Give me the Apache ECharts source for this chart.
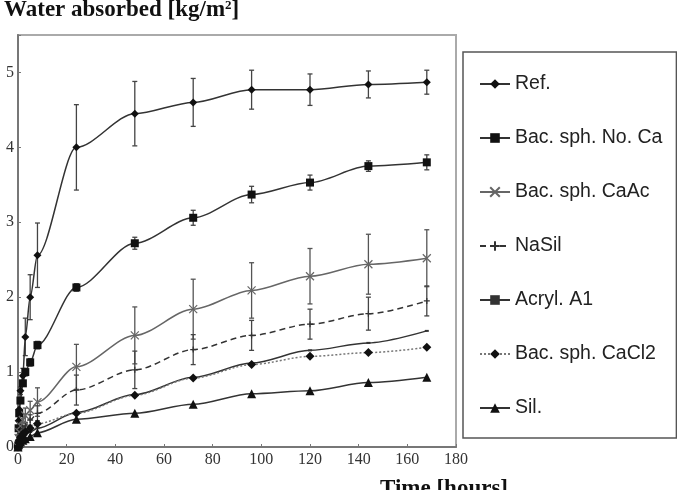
<!DOCTYPE html>
<html>
<head>
<meta charset="utf-8">
<script src="https://cdn.jsdelivr.net/npm/echarts@6/dist/echarts.min.js"></script>
<style>
html,body{margin:0;padding:0;background:#fff;}
#chart{width:677px;height:490px;}
</style>
</head>
<body>
<div id="chart"></div>
<script>
// time in hours
var times = [0, 0.25, 0.5, 1, 2, 3, 5, 8, 24, 48, 72, 96, 120, 144, 168];

var ref     = [0, 0.35, 0.5, 0.75, 0.95, 1.47, 2.0, 2.56, 4.0, 4.45, 4.6, 4.77, 4.77, 4.84, 4.87];
var refErr  = [0, 0, 0, 0.05, 0.1, 0.25, 0.3, 0.43, 0.57, 0.43, 0.32, 0.26, 0.21, 0.18, 0.16];
var noCa    = [0, 0.25, 0.45, 0.62, 0.85, 1.0, 1.13, 1.36, 2.13, 2.72, 3.06, 3.37, 3.53, 3.75, 3.8];
var noCaErr = [0, 0, 0, 0.03, 0.04, 0.05, 0.05, 0.05, 0.05, 0.08, 0.1, 0.11, 0.1, 0.07, 0.1];
var caAc    = [0, 0.12, 0.2, 0.28, 0.36, 0.42, 0.49, 0.6, 1.07, 1.49, 1.84, 2.09, 2.28, 2.44, 2.52];
var caAcErr = [0, 0, 0, 0.05, 0.08, 0.1, 0.12, 0.19, 0.3, 0.38, 0.4, 0.37, 0.37, 0.4, 0.38];
var naSil   = [0, 0.08, 0.12, 0.18, 0.24, 0.28, 0.36, 0.45, 0.76, 1.03, 1.3, 1.49, 1.64, 1.78, 1.95];
var naSilErr= [0, 0, 0, 0.03, 0.04, 0.05, 0.07, 0.1, 0.2, 0.25, 0.2, 0.2, 0.2, 0.22, 0.2];
var acryl   = [0, 0.04, 0.07, 0.1, 0.13, 0.16, 0.2, 0.25, 0.46, 0.7, 0.93, 1.12, 1.29, 1.39, 1.55];
var caCl2   = [0, 0.06, 0.09, 0.13, 0.17, 0.2, 0.25, 0.31, 0.45, 0.69, 0.92, 1.1, 1.21, 1.26, 1.33];
var sil     = [0, 0.03, 0.05, 0.07, 0.09, 0.11, 0.14, 0.19, 0.37, 0.45, 0.57, 0.71, 0.75, 0.86, 0.93];

var names = ['Ref.', 'Bac. sph. No. Ca', 'Bac. sph. CaAc', 'NaSil', 'Acryl. A1', 'Bac. sph. CaCl2', 'Sil.'];

var chart = echarts.init(document.getElementById('chart'));

function pairs(vals){
	var out = [];
	for(var i = 0; i < times.length; i++){
		out.push([times[i], vals[i]]);
	}
	return out;
}
function errData(vals, errs){
	var out = [];
	for(var i = 0; i < times.length; i++){
		if(errs[i] > 0) out.push([times[i], vals[i], errs[i]]);
	}
	return out;
}
function errSeries(vals, errs, color){
	return {
		type: 'custom',
		silent: true,
		z: 1,
		data: errData(vals, errs),
		encode: {x: 0, y: 1},
		renderItem: function(params, api){
			var t = api.value(0), v = api.value(1), e = api.value(2);
			var hi = api.coord([t, v + e]);
			var lo = api.coord([t, v - e]);
			var st = {stroke: color, lineWidth: 1.3};
			return {
				type: 'group',
				children: [
					{type: 'line', shape: {x1: hi[0], y1: hi[1], x2: lo[0], y2: lo[1]}, style: st},
					{type: 'line', shape: {x1: hi[0] - 2.5, y1: hi[1], x2: hi[0] + 2.5, y2: hi[1]}, style: st},
					{type: 'line', shape: {x1: lo[0] - 2.5, y1: lo[1], x2: lo[0] + 2.5, y2: lo[1]}, style: st}
				]
			};
		}
	};
}

var crossPath = 'path://M0,0L10,10M10,0L0,10';
var plusPath = 'path://M5,0L5,10M0,5L10,5';
var serif = 'Liberation Serif';

var option = {
	animation: false,
	title: [{
		text: '{a|Water absorbed [kg/m}{s|2}{a|]}',
		left: -1,
		top: -6,
		textStyle: {
			rich: {
				a: {fontFamily: serif, fontWeight: 'bold', fontSize: 23, color: '#111'},
				s: {fontFamily: serif, fontWeight: 'bold', fontSize: 13, color: '#111', verticalAlign: 'top', padding: [0, 0, 9, 0]}
			}
		}
	}, {
		text: 'Time [hours]',
		left: 375,
		top: 473,
		textStyle: {fontFamily: serif, fontWeight: 'bold', fontSize: 23, color: '#111'}
	}],
	grid: {
		left: 18,
		right: 221,
		top: 35,
		bottom: 43,
		show: true,
		borderColor: '#aaa',
		borderWidth: 2
	},
	legend: {
		data: names,
		orient: 'vertical',
		left: 463,
		top: 52,
		itemWidth: 30,
		itemHeight: 12,
		itemGap: 34,
		padding: [22, 14, 20, 16],
		borderColor: '#555',
		borderWidth: 1.5,
		textStyle: {fontFamily: 'Liberation Sans', fontSize: 19.5, color: '#222'}
	},
	xAxis: {
		type: 'value',
		min: 0,
		max: 180,
		interval: 20,
		splitLine: {show: false},
		axisLine: {lineStyle: {color: '#777', width: 2}},
		axisTick: {inside: true, length: 3, lineStyle: {color: '#777'}},
		axisLabel: {fontFamily: serif, fontSize: 16, color: '#333', margin: 5}
	},
	yAxis: {
		type: 'value',
		min: 0,
		max: 5.5,
		interval: 1,
		splitLine: {show: false},
		axisLine: {show: true, lineStyle: {color: '#777', width: 2}},
		axisTick: {show: true, inside: true, length: 3, lineStyle: {color: '#777'}},
		axisLabel: {
			fontFamily: serif, fontSize: 16, color: '#333', margin: 4,
			formatter: function(v){ return v % 1 === 0 ? v : ''; }
		}
	},
	series: [
		errSeries(ref, refErr, '#444'),
		errSeries(noCa, noCaErr, '#444'),
		errSeries(caAc, caAcErr, '#555'),
		errSeries(naSil, naSilErr, '#444'),
		{
			name: names[0], type: 'line', data: pairs(ref), smooth: 0.3, smoothMonotone: 'x',
			symbol: 'diamond', symbolSize: 8,
			itemStyle: {color: '#111'}, lineStyle: {color: '#333', width: 1.5}
		},
		{
			name: names[1], type: 'line', data: pairs(noCa), smooth: 0.3, smoothMonotone: 'x',
			symbol: 'rect', symbolSize: 8,
			itemStyle: {color: '#111'}, lineStyle: {color: '#333', width: 1.5}
		},
		{
			name: names[2], type: 'line', data: pairs(caAc), smooth: 0.3, smoothMonotone: 'x',
			symbol: crossPath, symbolSize: 8,
			itemStyle: {color: 'rgba(0,0,0,0)', borderColor: '#666', borderWidth: 1.2},
			lineStyle: {color: '#666', width: 1.5}
		},
		{
			name: names[3], type: 'line', data: pairs(naSil), smooth: 0.3, smoothMonotone: 'x',
			symbol: plusPath, symbolSize: 6,
			itemStyle: {color: 'rgba(0,0,0,0)', borderColor: '#333', borderWidth: 1.2},
			lineStyle: {color: '#333', width: 1.5, type: [6, 4]}
		},
		{
			name: names[4], type: 'line', data: pairs(acryl), smooth: 0.3, smoothMonotone: 'x',
			symbol: 'rect', symbolSize: [4, 2],
			itemStyle: {color: '#333'}, lineStyle: {color: '#333', width: 1.5}
		},
		{
			name: names[5], type: 'line', data: pairs(caCl2), smooth: 0.3, smoothMonotone: 'x',
			symbol: 'diamond', symbolSize: 9,
			itemStyle: {color: '#111'}, lineStyle: {color: '#777', width: 1.5, type: [2, 2]}
		},
		{
			name: names[6], type: 'line', data: pairs(sil), smooth: 0.3, smoothMonotone: 'x',
			symbol: 'triangle', symbolSize: 9,
			itemStyle: {color: '#111'}, lineStyle: {color: '#333', width: 1.5}
		}
	]
};
chart.setOption(option);
</script>
</body>
</html>
